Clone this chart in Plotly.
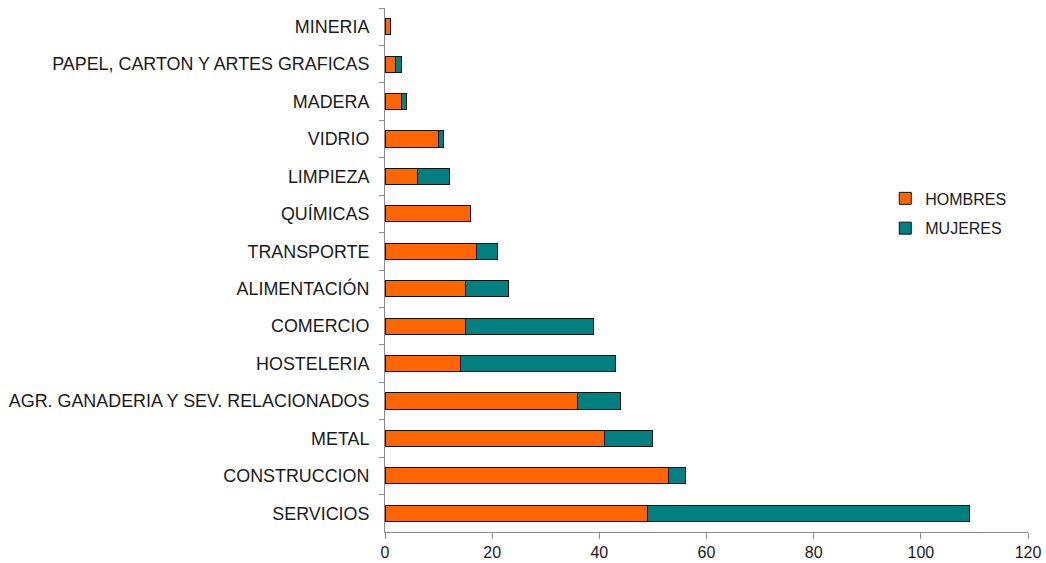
import plotly.graph_objects as go

categories = [
    "MINERIA",
    "PAPEL, CARTON Y ARTES GRAFICAS",
    "MADERA",
    "VIDRIO",
    "LIMPIEZA",
    "QUÍMICAS",
    "TRANSPORTE",
    "ALIMENTACIÓN",
    "COMERCIO",
    "HOSTELERIA",
    "AGR. GANADERIA Y SEV. RELACIONADOS",
    "METAL",
    "CONSTRUCCION",
    "SERVICIOS",
]
hombres = [1, 2, 3, 10, 6, 16, 17, 15, 15, 14, 36, 41, 53, 49]
mujeres = [0, 1, 1, 1, 6, 0, 4, 8, 24, 29, 8, 9, 3, 60]
x_ticks = [0, 20, 40, 60, 80, 100, 120]

FONT = "Liberation Sans, Arial, sans-serif"
ORANGE = "#FF6600"
TEAL = "#008080"
AXIS = "#8c8c8c"

fig = go.Figure()
fig.add_trace(go.Bar(
    y=categories, x=hombres, orientation="h", name="HOMBRES",
    marker=dict(color=ORANGE, line=dict(color="#111111", width=1)),
    legendgroup="h",
))
fig.add_trace(go.Bar(
    y=categories, x=mujeres, orientation="h", name="MUJERES",
    marker=dict(color=TEAL, line=dict(color="#111111", width=1)),
    legendgroup="m",
))

fig.update_layout(
    width=1046, height=563,
    margin=dict(l=385, r=18, t=8, b=31, autoexpand=False),
    barmode="stack",
    bargap=0.57,
    paper_bgcolor="white",
    plot_bgcolor="white",
    font=dict(family=FONT, size=16, color="#1a1a1a"),
    showlegend=True,
    legend=dict(
        x=0.778, y=0.669, xanchor="left", yanchor="top",
        traceorder="grouped", tracegroupgap=6,
        font=dict(family=FONT, size=16, color="#1a1a1a"),
        itemwidth=30, bgcolor="rgba(0,0,0,0)",
    ),
    xaxis=dict(
        range=[0, 120], tickvals=x_ticks, ticktext=[str(v) for v in x_ticks],
        showgrid=False, zeroline=False, automargin=False,
        showline=True, linecolor=AXIS, linewidth=1,
        ticks="outside", ticklen=6, tickcolor=AXIS, tickwidth=1,
        tickfont=dict(family=FONT, size=16, color="#1a1a1a"),
    ),
    yaxis=dict(
        autorange="reversed", type="category", automargin=False,
        showgrid=False, zeroline=False,
        showline=True, linecolor=AXIS, linewidth=1,
        ticks="outside", ticklen=5, tickcolor=AXIS, tickwidth=1,
        tickson="boundaries",
        tickfont=dict(family=FONT, size=17.9, color="#1a1a1a"),
        ticklabelstandoff=11,
    ),
)

fig.write_html("out.html", config={"displayModeBar": False})

with open("out.html", "r", encoding="utf-8") as f:
    html = f.read()
html = html.replace("<head>", "<head><style>html,body{margin:0;padding:0;overflow:hidden;}</style>", 1)
with open("out.html", "w", encoding="utf-8") as f:
    f.write(html)
